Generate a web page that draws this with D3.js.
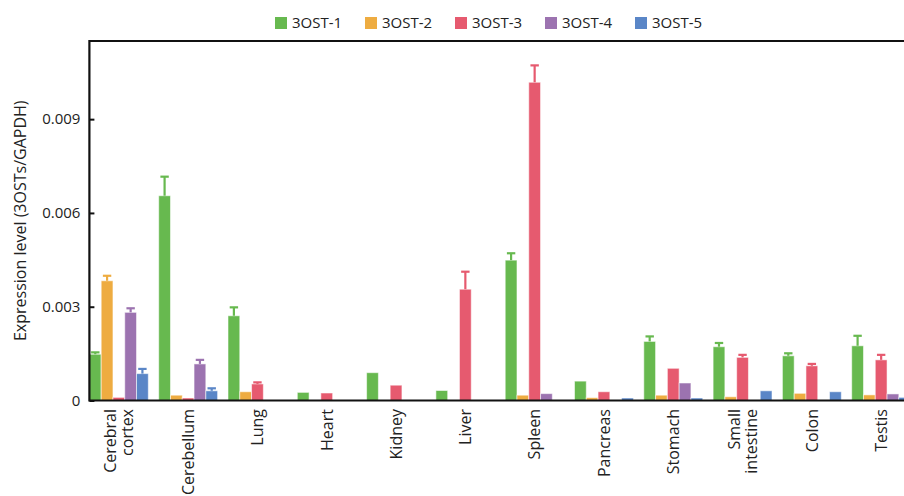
<!DOCTYPE html>
<html>
<head>
<meta charset="utf-8">
<script src="https://cdn.jsdelivr.net/npm/d3@7/dist/d3.min.js"></script>
<style>
  html, body { margin: 0; padding: 0; background: #fff; }
  svg { display: block; font-family: "Open Sans", sans-serif; }
</style>
</head>
<body>
<svg id="chart" width="904" height="496"></svg>
<script>
// Tissues (two-line labels are split with "\n")
const tissues = ["Cerebral\ncortex", "Cerebellum", "Lung", "Heart", "Kidney", "Liver",
                 "Spleen", "Pancreas", "Stomach", "Small\nintestine", "Colon", "Testis"];

const seriesNames = ["3OST-1", "3OST-2", "3OST-3", "3OST-4", "3OST-5"];
const seriesColors = ["#67b94f", "#eeac41", "#e65a6f", "#9c73b0", "#5a86c7"];

// Mean expression relative to GAPDH, per tissue
const ost1 = [0.00148, 0.00655, 0.00271, 0.00026, 0.00089, 0.00032, 0.00449, 0.00062, 0.00189, 0.00172, 0.00143, 0.00175];
const ost2 = [0.00383, 0.00017, 0.00028, 0.00001, 0, 0, 0.00017, 0.00009, 0.00017, 0.00012, 0.00023, 0.00018];
const ost3 = [0.00010, 0.00008, 0.00053, 0.00024, 0.00049, 0.00356, 0.01018, 0.00028, 0.00103, 0.00138, 0.00111, 0.00130];
const ost4 = [0.00282, 0.00117, 0, 0, 0, 0, 0.00022, 0, 0.00056, 0, 0, 0.00021];
const ost5 = [0.00086, 0.00031, 0, 0, 0, 0, 0, 0.00008, 0.00008, 0.00031, 0.00028, 0.00010];

// Standard error (upper whisker only)
const err1 = [0.00006, 0.00061, 0.00027, 0, 0, 0, 0.00022, 0, 0.00016, 0.00012, 0.00008, 0.00032];
const err2 = [0.00016, 0, 0, 0, 0, 0, 0, 0, 0, 0, 0, 0];
const err3 = [0, 0, 0.00005, 0, 0, 0.00056, 0.00054, 0, 0, 0.00008, 0.00006, 0.00016];
const err4 = [0.00013, 0.00013, 0, 0, 0, 0, 0, 0, 0, 0, 0, 0];
const err5 = [0.00015, 0.00008, 0, 0, 0, 0, 0, 0, 0, 0, 0, 0];

const yTicks = [0, 0.003, 0.006, 0.009];
const yTitle = "Expression level (3OSTs/GAPDH)";

const values = [ost1, ost2, ost3, ost4, ost5];
const errors = [err1, err2, err3, err4, err5];

const svg = d3.select("#chart");

const plotLeft = 89.4, plotTop = 41, plotBottom = 400.5;
const step = 69.3;

const x0 = d3.scaleBand()
  .domain(tissues)
  .range([plotLeft, plotLeft + step * (tissues.length - 0.15)])
  .paddingInner(0.15)
  .paddingOuter(0);

const x1 = d3.scaleBand()
  .domain(seriesNames)
  .range([0, x0.bandwidth()])
  .padding(0);

const y = d3.scaleLinear().domain([0, 0.0115]).range([plotBottom, plotTop]);

// Flattened records for bars
const records = [];
tissues.forEach((t, i) => {
  seriesNames.forEach((s, j) => {
    records.push({ tissue: t, series: s, color: seriesColors[j], v: values[j][i], e: errors[j][i] });
  });
});

const plot = svg.append("g");

// Bars
plot.selectAll("rect.bar")
  .data(records.filter(d => d.v > 0))
  .join("rect")
  .attr("class", "bar")
  .attr("x", d => x0(d.tissue) + x1(d.series))
  .attr("width", x1.bandwidth())
  .attr("y", d => y(d.v))
  .attr("height", d => y(0) - y(d.v))
  .attr("fill", d => d.color)
  .attr("stroke", "#ffffff")
  .attr("stroke-opacity", 0.55)
  .attr("stroke-width", 1);

// Error bars
const eb = plot.selectAll("g.err")
  .data(records.filter(d => d.e > 0))
  .join("g")
  .attr("class", "err")
  .attr("stroke", d => d.color)
  .attr("stroke-width", 2.2);

const cx = d => x0(d.tissue) + x1(d.series) + x1.bandwidth() / 2;

eb.append("line")
  .attr("x1", cx)
  .attr("x2", cx)
  .attr("y1", d => y(d.v))
  .attr("y2", d => y(d.v + d.e));

eb.append("line")
  .attr("x1", d => cx(d) - 4.2)
  .attr("x2", d => cx(d) + 4.2)
  .attr("y1", d => y(d.v + d.e))
  .attr("y2", d => y(d.v + d.e));

// Y axis with inward ticks
const yAxis = d3.axisLeft(y)
  .tickValues(yTicks)
  .tickSizeInner(-5)
  .tickSizeOuter(0)
  .tickPadding(9)
  .tickFormat(d => d === 0 ? "0" : d3.format(".3f")(d));

const gy = svg.append("g")
  .attr("transform", `translate(${plotLeft},0)`)
  .call(yAxis);
gy.select(".domain").remove();
gy.selectAll(".tick line").attr("stroke", "#111").attr("stroke-width", 2);
gy.selectAll(".tick text")
  .attr("fill", "#222")
  .style("font-size", "15px")
  .style("font-family", "'Open Sans', sans-serif");

// Frame: left, top and bottom edges
svg.append("path")
  .attr("d", `M930,${plotTop}H${plotLeft}V${plotBottom}H930`)
  .attr("fill", "none")
  .attr("stroke", "#111")
  .attr("stroke-width", 2.2);

// X axis labels, rotated
const xAxis = d3.axisBottom(x0).tickSize(0).tickFormat("");
const gx = svg.append("g")
  .attr("transform", `translate(0,${plotBottom})`)
  .call(xAxis);
gx.select(".domain").remove();

gx.selectAll(".tick").each(function (d) {
  const lines = d.split("\n");
  const lh = 16.6;
  const t = d3.select(this).append("text")
    .attr("transform", "translate(0,8.5) rotate(-90)")
    .attr("text-anchor", "end")
    .attr("fill", "#222")
    .style("font-size", "16px")
    .style("font-family", "'Open Sans', sans-serif");
  lines.forEach((ln, k) => {
    t.append("tspan")
      .attr("x", 0)
      .attr("y", (k - (lines.length - 1) / 2) * lh)
      .attr("dy", "0.36em")
      .text(ln);
  });
});

// Y axis title
svg.append("text")
  .attr("transform", `translate(26,${(plotTop + plotBottom) / 2}) rotate(-90)`)
  .attr("text-anchor", "middle")
  .attr("fill", "#222")
  .style("font-size", "16px")
  .text(yTitle);

// Legend
const legend = svg.append("g")
  .selectAll("g")
  .data(seriesNames)
  .join("g")
  .attr("transform", (d, i) => `translate(${275 + i * 90},17)`);

legend.append("rect")
  .attr("width", 12)
  .attr("height", 12)
  .attr("fill", (d, i) => seriesColors[i]);

legend.append("text")
  .attr("x", 17)
  .attr("y", 11)
  .attr("fill", "#222")
  .style("font-size", "15px")
  .text(d => d);
</script>
</body>
</html>
